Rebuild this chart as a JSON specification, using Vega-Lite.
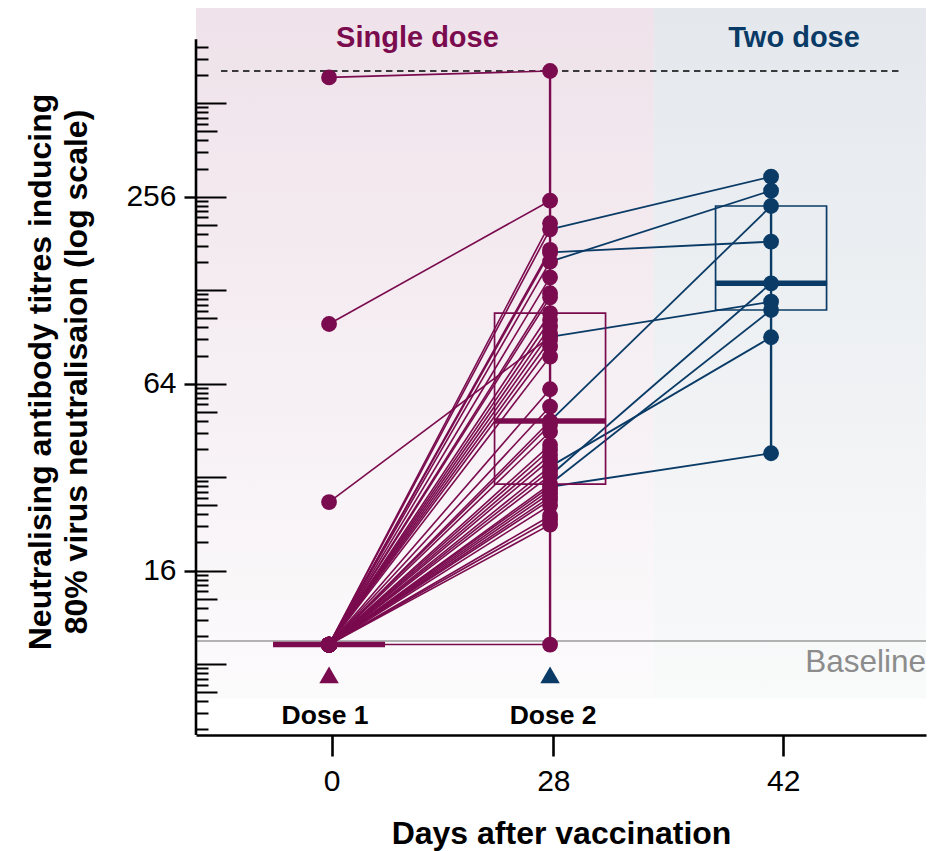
{
  "$schema": "https://vega.github.io/schema/vega-lite/v6.json",
  "width": 730,
  "height": 727,
  "autosize": {"type": "none"},
  "padding": {"left": 196, "top": 8, "right": 4, "bottom": 116},
  "background": "white",
  "config": {"view": {"stroke": null}, "font": "Liberation Sans", "axis": {"grid": false}, "scale": {"continuousPadding": 0}},
  "datasets": {
    "regions": [
      {"region": "Single dose", "x0": 0.398, "x1": 2.47, "ylo": 6.2, "yhi": 1037, "labelx": 1.4, "labely": 778},
      {"region": "Two dose", "x0": 2.47, "x1": 3.701, "ylo": 6.2, "yhi": 1037, "labelx": 3.104, "labely": 778}
    ],
    "titres": [
      {"id": 1, "visit": 1, "titre": 620}, {"id": 1, "visit": 2, "titre": 650},
      {"id": 2, "visit": 1, "titre": 99.6}, {"id": 2, "visit": 2, "titre": 248.5},
      {"id": 3, "visit": 1, "titre": 9.25}, {"id": 3, "visit": 2, "titre": 210.2},
      {"id": 4, "visit": 1, "titre": 9.25}, {"id": 4, "visit": 2, "titre": 201.0}, {"id": 4, "visit": 3, "titre": 297},
      {"id": 5, "visit": 1, "titre": 9.25}, {"id": 5, "visit": 2, "titre": 172.5},
      {"id": 6, "visit": 1, "titre": 9.25}, {"id": 6, "visit": 2, "titre": 169.3}, {"id": 6, "visit": 3, "titre": 183.4},
      {"id": 7, "visit": 1, "titre": 9.25}, {"id": 7, "visit": 2, "titre": 158.1}, {"id": 7, "visit": 3, "titre": 267.7},
      {"id": 8, "visit": 1, "titre": 9.25}, {"id": 8, "visit": 2, "titre": 140.8},
      {"id": 9, "visit": 1, "titre": 9.25}, {"id": 9, "visit": 2, "titre": 125.1},
      {"id": 10, "visit": 1, "titre": 9.25}, {"id": 10, "visit": 2, "titre": 121.4},
      {"id": 11, "visit": 1, "titre": 9.25}, {"id": 11, "visit": 2, "titre": 107.9},
      {"id": 12, "visit": 1, "titre": 9.25}, {"id": 12, "visit": 2, "titre": 102.6},
      {"id": 13, "visit": 1, "titre": 9.25}, {"id": 13, "visit": 2, "titre": 97.7},
      {"id": 14, "visit": 1, "titre": 9.25}, {"id": 14, "visit": 2, "titre": 93.0},
      {"id": 15, "visit": 1, "titre": 26.6}, {"id": 15, "visit": 2, "titre": 90.5}, {"id": 15, "visit": 3, "titre": 117.5},
      {"id": 16, "visit": 1, "titre": 9.25}, {"id": 16, "visit": 2, "titre": 88.5},
      {"id": 17, "visit": 1, "titre": 9.25}, {"id": 17, "visit": 2, "titre": 84.2},
      {"id": 18, "visit": 1, "titre": 9.25}, {"id": 18, "visit": 2, "titre": 78.2},
      {"id": 19, "visit": 1, "titre": 9.25}, {"id": 19, "visit": 2, "titre": 61.4},
      {"id": 20, "visit": 1, "titre": 9.25}, {"id": 20, "visit": 2, "titre": 54.0},
      {"id": 21, "visit": 1, "titre": 9.25}, {"id": 21, "visit": 2, "titre": 48.5}, {"id": 21, "visit": 3, "titre": 238.9},
      {"id": 22, "visit": 1, "titre": 9.25}, {"id": 22, "visit": 2, "titre": 47.1},
      {"id": 23, "visit": 1, "titre": 9.25}, {"id": 23, "visit": 2, "titre": 44.8},
      {"id": 24, "visit": 1, "titre": 9.25}, {"id": 24, "visit": 2, "titre": 40.6},
      {"id": 25, "visit": 1, "titre": 9.25}, {"id": 25, "visit": 2, "titre": 39.2},
      {"id": 26, "visit": 1, "titre": 9.25}, {"id": 26, "visit": 2, "titre": 37.7},
      {"id": 27, "visit": 1, "titre": 9.25}, {"id": 27, "visit": 2, "titre": 36.4},
      {"id": 28, "visit": 1, "titre": 9.25}, {"id": 28, "visit": 2, "titre": 34.6}, {"id": 28, "visit": 3, "titre": 90.3},
      {"id": 29, "visit": 1, "titre": 9.25}, {"id": 29, "visit": 2, "titre": 33.5},
      {"id": 30, "visit": 1, "titre": 9.25}, {"id": 30, "visit": 2, "titre": 32.4}, {"id": 30, "visit": 3, "titre": 134.7},
      {"id": 31, "visit": 1, "titre": 9.25}, {"id": 31, "visit": 2, "titre": 30.4}, {"id": 31, "visit": 3, "titre": 110.5},
      {"id": 32, "visit": 1, "titre": 9.25}, {"id": 32, "visit": 2, "titre": 29.8}, {"id": 32, "visit": 3, "titre": 38.2},
      {"id": 33, "visit": 1, "titre": 9.25}, {"id": 33, "visit": 2, "titre": 29.1},
      {"id": 34, "visit": 1, "titre": 9.25}, {"id": 34, "visit": 2, "titre": 28.4},
      {"id": 35, "visit": 1, "titre": 9.25}, {"id": 35, "visit": 2, "titre": 27.6},
      {"id": 36, "visit": 1, "titre": 9.25}, {"id": 36, "visit": 2, "titre": 27.0},
      {"id": 37, "visit": 1, "titre": 9.25}, {"id": 37, "visit": 2, "titre": 26.0},
      {"id": 38, "visit": 1, "titre": 9.25}, {"id": 38, "visit": 2, "titre": 24.0},
      {"id": 39, "visit": 1, "titre": 9.25}, {"id": 39, "visit": 2, "titre": 23.3},
      {"id": 40, "visit": 1, "titre": 9.25}, {"id": 40, "visit": 2, "titre": 22.5},
      {"id": 41, "visit": 1, "titre": 9.25}, {"id": 41, "visit": 2, "titre": 9.25}
    ],
    "boxes": [
      {"visit": 1, "lower": 9.25, "q1": 9.25, "median": 9.25, "q3": 9.25, "upper": 9.25},
      {"visit": 2, "lower": 9.25, "q1": 30.4, "median": 48.5, "q3": 107.9, "upper": 650},
      {"visit": 3, "lower": 38.2, "q1": 110.5, "median": 134.7, "q3": 238.9, "upper": 297}
    ],
    "doses": [
      {"dose": "Dose 1", "visit": 1, "marker": 7.39, "labelx": 0.982, "labely": 5.13},
      {"dose": "Dose 2", "visit": 2, "marker": 7.39, "labelx": 2.014, "labely": 5.13}
    ],
    "refs": [
      {"ref": "Baseline", "x0": 0.398, "x1": 3.701, "y": 9.5, "labely": 7.57},
      {"ref": "Upper limit", "x0": 0.511, "x1": 3.584, "y": 650, "labely": 650}
    ]
  },
  "resolve": {"axis": {"y": "independent"}},
  "layer": [
    {
      "data": {"name": "regions"},
      "transform": [{"filter": "datum.region == 'Single dose'"}],
      "mark": {"type": "rect", "stroke": null, "fill": {"gradient": "linear", "x1": 0, "y1": 0, "x2": 0, "y2": 1, "stops": [{"offset": 0, "color": "#efe2ea"}, {"offset": 1, "color": "#fcfbfc"}]}},
      "encoding": {
        "x": {"field": "x0", "type": "quantitative", "scale": {"domain": [0.398, 3.701], "nice": false, "zero": false, "padding": 0},
          "axis": {"title": "Days after vaccination", "values": [1.012, 2.015, 3.055], "zindex": 1,
            "labelExpr": "datum.value < 1.5 ? '0' : (datum.value < 2.5 ? '28' : '42')",
            "domainColor": "black", "domainWidth": 2.6, "tickColor": "black", "tickWidth": 2.6, "tickSize": 21,
            "labelFont": "Liberation Sans", "labelFontSize": 30, "labelColor": "black", "labelPadding": 10, "labelFlush": false, "labelOverlap": false,
            "titleFont": "Liberation Sans", "titleFontSize": 32, "titleFontWeight": "bold", "titleColor": "black", "titlePadding": 22}},
        "x2": {"field": "x1"},
        "y": {"field": "ylo", "type": "quantitative", "scale": {"type": "log", "base": 2, "domain": [4.73, 1037], "nice": false, "padding": 0}, "axis": null},
        "y2": {"field": "yhi"}
      }
    },
    {
      "data": {"name": "regions"},
      "transform": [{"filter": "datum.region == 'Two dose'"}],
      "mark": {"type": "rect", "stroke": null, "fill": {"gradient": "linear", "x1": 0, "y1": 0, "x2": 0, "y2": 1, "stops": [{"offset": 0, "color": "#e4e8ed"}, {"offset": 1, "color": "#f9fafa"}]}},
      "encoding": {
        "x": {"field": "x0", "type": "quantitative", "scale": {"domain": [0.398, 3.701], "nice": false, "zero": false, "padding": 0}},
        "x2": {"field": "x1"},
        "y": {"field": "ylo", "type": "quantitative", "scale": {"type": "log", "base": 2, "domain": [4.73, 1037], "nice": false, "padding": 0}, "axis": null},
        "y2": {"field": "yhi"}
      }
    },
    {
      "data": {"name": "refs"},
      "transform": [{"filter": "datum.ref == 'Baseline'"}],
      "mark": {"type": "rule", "stroke": "#9a9a9a", "strokeWidth": 1.4},
      "encoding": {
        "x": {"field": "x0", "type": "quantitative", "scale": {"domain": [0.398, 3.701], "nice": false, "zero": false, "padding": 0}},
        "x2": {"field": "x1"},
        "y": {"field": "y", "type": "quantitative", "scale": {"type": "log", "base": 2, "domain": [4.73, 1037], "nice": false, "padding": 0}, "axis": null}
      }
    },
    {
      "data": {"name": "refs"},
      "transform": [{"filter": "datum.ref == 'Upper limit'"}],
      "mark": {"type": "rule", "stroke": "black", "strokeWidth": 1.7, "strokeDash": [6.5, 4.5]},
      "encoding": {
        "x": {"field": "x0", "type": "quantitative", "scale": {"domain": [0.398, 3.701], "nice": false, "zero": false, "padding": 0}},
        "x2": {"field": "x1"},
        "y": {"field": "y", "type": "quantitative", "scale": {"type": "log", "base": 2, "domain": [4.73, 1037], "nice": false, "padding": 0}, "axis": null}
      }
    },
    {
      "data": {"name": "titres"},
      "transform": [{"filter": "datum.visit <= 2"}],
      "mark": {"type": "line", "stroke": "#7a0b4e", "strokeWidth": 1.6},
      "encoding": {
        "x": {"field": "visit", "type": "quantitative", "scale": {"domain": [0.398, 3.701], "nice": false, "zero": false, "padding": 0}},
        "y": {"field": "titre", "type": "quantitative", "scale": {"type": "log", "base": 2, "domain": [4.73, 1037], "nice": false, "padding": 0},
          "axis": {"orient": "left", "title": null, "labels": false, "domain": false, "grid": false, "tickColor": "black", "tickWidth": 2, "zindex": 1,
            "values": [4.928, 5.568, 6.071, 6.493, 6.86, 7.185, 7.48, 7.75, 8,
              9.856, 11.135, 12.143, 12.987, 13.719, 14.371, 14.96, 15.5, 16,
              19.712, 22.271, 24.286, 25.973, 27.439, 28.742, 29.921, 31.001, 32,
              39.425, 44.542, 48.572, 51.947, 54.877, 57.484, 59.842, 62.002, 64,
              78.849, 89.084, 97.144, 103.893, 109.755, 114.968, 119.684, 124.004, 128,
              157.699, 178.168, 194.287, 207.786, 219.51, 229.935, 239.368, 248.008, 256,
              315.397, 356.337, 388.575, 415.572, 439.02, 459.871, 478.735, 496.015, 512,
              630.794, 712.673, 777.149],
            "tickSize": {"condition": [
              {"test": "abs(log(datum.value)/log(2) - round(log(datum.value)/log(2))) < 0.002", "value": -30},
              {"test": "abs(log(datum.value)/log(2) - floor(log(datum.value)/log(2)) - 0.69897) < 0.003", "value": -21}
            ], "value": -12}}},
        "detail": {"field": "id", "type": "nominal"}
      }
    },
    {
      "data": {"name": "titres"},
      "transform": [{"filter": "datum.visit >= 2"}],
      "mark": {"type": "line", "stroke": "#0a3b66", "strokeWidth": 1.8},
      "encoding": {
        "x": {"field": "visit", "type": "quantitative", "scale": {"domain": [0.398, 3.701], "nice": false, "zero": false, "padding": 0}},
        "y": {"field": "titre", "type": "quantitative", "scale": {"type": "log", "base": 2, "domain": [4.73, 1037], "nice": false, "padding": 0}, "axis": null},
        "detail": {"field": "id", "type": "nominal"}
      }
    },
    {
      "data": {"name": "boxes"},
      "mark": {"type": "rule", "strokeWidth": 2.4},
      "encoding": {
        "x": {"field": "visit", "type": "quantitative", "scale": {"domain": [0.398, 3.701], "nice": false, "zero": false, "padding": 0}},
        "y": {"field": "lower", "type": "quantitative", "scale": {"type": "log", "base": 2, "domain": [4.73, 1037], "nice": false, "padding": 0}, "axis": null},
        "y2": {"field": "upper"},
        "color": {"field": "visit", "type": "ordinal", "scale": {"domain": [1, 2, 3], "range": ["#7a0b4e", "#7a0b4e", "#0a3b66"]}, "legend": null}
      }
    },
    {
      "data": {"name": "boxes"},
      "mark": {"type": "bar", "filled": false, "size": 111, "strokeWidth": 1.7},
      "encoding": {
        "x": {"field": "visit", "type": "quantitative", "scale": {"domain": [0.398, 3.701], "nice": false, "zero": false, "padding": 0}},
        "y": {"field": "q1", "type": "quantitative", "scale": {"type": "log", "base": 2, "domain": [4.73, 1037], "nice": false, "padding": 0}, "axis": null},
        "y2": {"field": "q3"},
        "color": {"field": "visit", "type": "ordinal", "scale": {"domain": [1, 2, 3], "range": ["#7a0b4e", "#7a0b4e", "#0a3b66"]}, "legend": null}
      }
    },
    {
      "data": {"name": "titres"},
      "mark": {"type": "circle", "size": 250, "opacity": 1},
      "encoding": {
        "x": {"field": "visit", "type": "quantitative", "scale": {"domain": [0.398, 3.701], "nice": false, "zero": false, "padding": 0}},
        "y": {"field": "titre", "type": "quantitative", "scale": {"type": "log", "base": 2, "domain": [4.73, 1037], "nice": false, "padding": 0},
          "axis": {"orient": "left", "values": [16, 64, 256], "format": "d", "domain": false, "grid": false, "zindex": 1,
            "tickSize": 12, "tickWidth": 2.4, "tickColor": "black",
            "labelFont": "Liberation Sans", "labelFontSize": 30, "labelColor": "black", "labelPadding": 8, "labelFlush": false, "labelOverlap": false,
            "title": ["Neutralising antibody titres inducing", "80% virus neutralisaion (log scale)"],
            "titleFont": "Liberation Sans", "titleFontSize": 32, "titleFontWeight": "bold", "titleColor": "black", "titleLineHeight": 36, "titlePadding": 32}},
        "color": {"field": "visit", "type": "ordinal", "scale": {"domain": [1, 2, 3], "range": ["#7a0b4e", "#7a0b4e", "#0a3b66"]}, "legend": null}
      }
    },
    {
      "data": {"name": "boxes"},
      "mark": {"type": "tick", "orient": "horizontal", "size": 112, "thickness": 5.5, "opacity": 1},
      "encoding": {
        "x": {"field": "visit", "type": "quantitative", "scale": {"domain": [0.398, 3.701], "nice": false, "zero": false, "padding": 0}},
        "y": {"field": "median", "type": "quantitative", "scale": {"type": "log", "base": 2, "domain": [4.73, 1037], "nice": false, "padding": 0}, "axis": null},
        "color": {"field": "visit", "type": "ordinal", "scale": {"domain": [1, 2, 3], "range": ["#7a0b4e", "#7a0b4e", "#0a3b66"]}, "legend": null}
      }
    },
    {
      "data": {"name": "doses"},
      "mark": {"type": "point", "shape": "triangle-up", "filled": true, "size": 380, "opacity": 1},
      "encoding": {
        "x": {"field": "visit", "type": "quantitative", "scale": {"domain": [0.398, 3.701], "nice": false, "zero": false, "padding": 0}},
        "y": {"field": "marker", "type": "quantitative", "scale": {"type": "log", "base": 2, "domain": [4.73, 1037], "nice": false, "padding": 0}, "axis": null},
        "fill": {"field": "dose", "type": "nominal", "scale": {"domain": ["Dose 1", "Dose 2"], "range": ["#7a0b4e", "#0a3b66"]}, "legend": null}
      }
    },
    {
      "data": {"name": "doses"},
      "mark": {"type": "text", "font": "Liberation Sans", "fontSize": 26.5, "fontWeight": "bold", "color": "black", "align": "center", "baseline": "alphabetic"},
      "encoding": {
        "x": {"field": "labelx", "type": "quantitative", "scale": {"domain": [0.398, 3.701], "nice": false, "zero": false, "padding": 0}},
        "y": {"field": "labely", "type": "quantitative", "scale": {"type": "log", "base": 2, "domain": [4.73, 1037], "nice": false, "padding": 0}, "axis": null},
        "text": {"field": "dose"}
      }
    },
    {
      "data": {"name": "regions"},
      "mark": {"type": "text", "font": "Liberation Sans", "fontSize": 29, "fontWeight": "bold", "align": "center", "baseline": "alphabetic"},
      "encoding": {
        "x": {"field": "labelx", "type": "quantitative", "scale": {"domain": [0.398, 3.701], "nice": false, "zero": false, "padding": 0}},
        "y": {"field": "labely", "type": "quantitative", "scale": {"type": "log", "base": 2, "domain": [4.73, 1037], "nice": false, "padding": 0}, "axis": null},
        "text": {"field": "region"},
        "fill": {"field": "region", "type": "nominal", "scale": {"domain": ["Single dose", "Two dose"], "range": ["#7a0b4e", "#0c3a60"]}, "legend": null}
      }
    },
    {
      "data": {"name": "refs"},
      "transform": [{"filter": "datum.ref == 'Baseline'"}],
      "mark": {"type": "text", "font": "Liberation Sans", "fontSize": 31.5, "color": "#8c8c8c", "align": "right", "baseline": "alphabetic"},
      "encoding": {
        "x": {"field": "x1", "type": "quantitative", "scale": {"domain": [0.398, 3.701], "nice": false, "zero": false, "padding": 0}},
        "y": {"field": "labely", "type": "quantitative", "scale": {"type": "log", "base": 2, "domain": [4.73, 1037], "nice": false, "padding": 0}, "axis": null},
        "text": {"field": "ref"}
      }
    },
    {
      "data": {"values": [{"axisx": 0.398, "ylo": 4.73, "yhi": 822}]},
      "mark": {"type": "rule", "stroke": "black", "strokeWidth": 2.6},
      "encoding": {
        "x": {"field": "axisx", "type": "quantitative", "scale": {"domain": [0.398, 3.701], "nice": false, "zero": false, "padding": 0}},
        "y": {"field": "ylo", "type": "quantitative", "scale": {"type": "log", "base": 2, "domain": [4.73, 1037], "nice": false, "padding": 0}, "axis": null},
        "y2": {"field": "yhi"}
      }
    }
  ]
}
